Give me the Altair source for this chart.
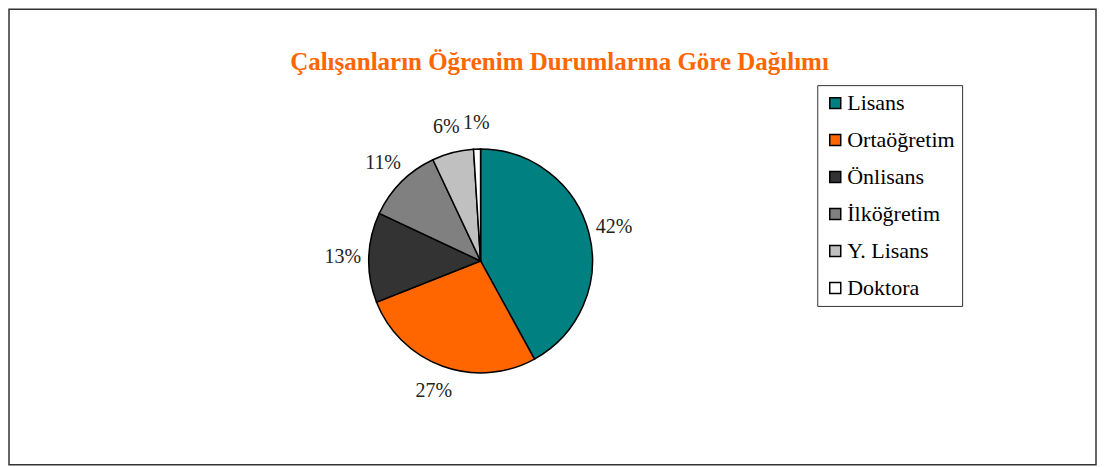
import altair as alt
import pandas as pd

categories = ["Lisans", "Ortaöğretim", "Önlisans", "İlköğretim", "Y. Lisans", "Doktora"]
values = [42, 27, 13, 11, 6, 1]
colors = ["#008080", "#FF6600", "#333333", "#808080", "#C0C0C0", "#FFFFFF"]
title_text = "Çalışanların Öğrenim Durumlarına Göre Dağılımı"

df = pd.DataFrame({
    "kategori": categories,
    "deger": values,
    "sira": list(range(len(categories))),
    "etiket": [f"{v}%" for v in values],
})

CX, CY = 472, 252
SERIF = "Liberation Serif"

base = alt.Chart(df).encode(
    theta=alt.Theta("deger:Q", stack=True),
    order=alt.Order("sira:Q", sort="ascending"),
)

arcs = base.mark_arc(radius=112, stroke="black", strokeWidth=1.5).encode(
    x=alt.value(CX),
    y=alt.value(CY),
    color=alt.Color(
        "kategori:N",
        scale=alt.Scale(domain=categories, range=colors),
        legend=alt.Legend(
            orient="none",
            legendX=809,
            legendY=76,
            title=None,
            strokeColor="#333333",
            fillColor="white",
            padding=7,
            symbolType="square",
            symbolSize=121,
            symbolStrokeColor="black",
            symbolStrokeWidth=1.5,
            symbolOpacity=1,
            labelFont=SERIF,
            labelFontSize=22,
            labelColor="black",
            rowPadding=15,
            labelOffset=1,
            labelLimit=300,
        ),
    ),
)

labels = base.mark_text(
    radius=138, font=SERIF, fontSize=20, color="#222222"
).encode(
    x=alt.value(CX),
    y=alt.value(CY),
    text="etiket:N",
)

title = alt.Chart(pd.DataFrame({"t": [title_text]})).mark_text(
    font=SERIF, fontSize=25, fontWeight="bold", color="#FF6600"
).encode(
    x=alt.value(551),
    y=alt.value(53),
    text="t:N",
)

chart = alt.layer(arcs, labels, title).properties(
    width=1088, height=456,
    padding={"left": 1, "top": 1, "right": 1, "bottom": 1},
    autosize=alt.AutoSizeParams(type="none"),
).configure_view(stroke="#333333", strokeWidth=1.5).configure_legend(
    labelFont=SERIF
)

chart.save("out.html", embed_options={"renderer": "svg", "actions": False})
